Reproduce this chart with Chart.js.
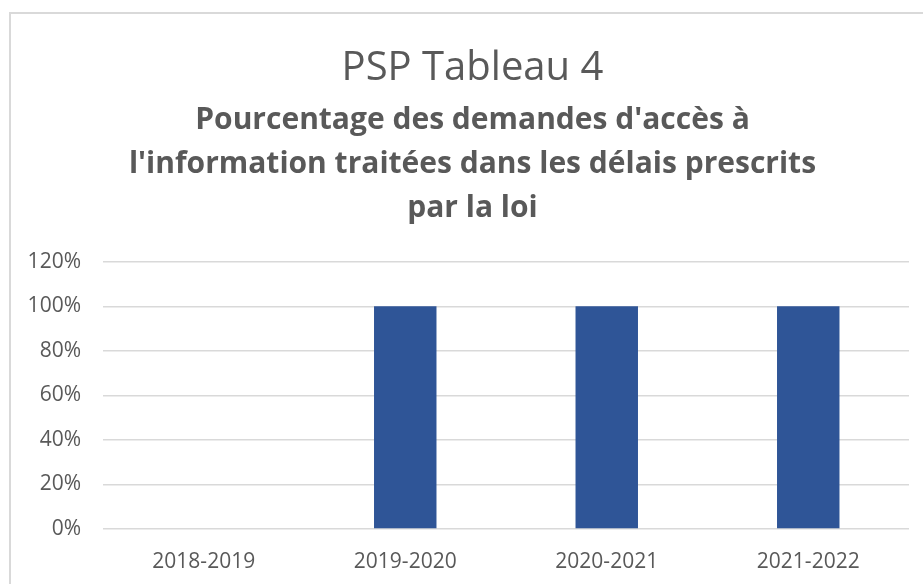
<!DOCTYPE html>
<html>
<head>
<meta charset="utf-8">
<script src="https://cdn.jsdelivr.net/npm/chart.js@4"></script>
<style>
  html, body { margin: 0; padding: 0; background: #fff; }
  #frame { position: absolute; left: 9px; top: 12px; width: 940px; height: 600px; border: 2px solid #d9d9d9; }
  #wrap { position: absolute; left: 0; top: 0; width: 923px; height: 584px; }
</style>
</head>
<body>
<div id="frame"></div>
<div id="wrap"><canvas id="chart" width="923" height="584"></canvas></div>
<script>
// Données du tableau 4
const years = ['2018-2019', '2019-2020', '2020-2021', '2021-2022'];
const pourcentages = [0, 100, 100, 100];
const yTicks = [0, 20, 40, 60, 80, 100, 120];

const titleText = 'PSP Tableau 4';
const subtitleLines = [
    "Pourcentage des demandes d'accès à",
    "l'information traitées dans les délais prescrits",
    'par la loi'
];

const grey = '#595959';

// le graphique d'origine est coupé à droite : on décale titre et sous-titre vers la droite
const shiftTitles = {
    id: 'shiftTitles',
    afterLayout(chart) {
        chart.boxes
            .filter(b => b.position === 'top' && b.options && b.options.text !== undefined)
            .forEach(b => { b.left += 18; b.right += 18; });
    }
};

const ctx = document.getElementById('chart').getContext('2d');

new Chart(ctx, {
    type: 'bar',
    data: {
        labels: years,
        datasets: [{
            data: pourcentages,
            backgroundColor: '#2f5597',
            borderWidth: 0,
            barPercentage: 0.62,
            categoryPercentage: 0.5
        }]
    },
    options: {
        responsive: false,
        animation: false,
        layout: {
            padding: { left: 0, right: 14, top: 0, bottom: 0 }
        },
        plugins: {
            legend: { display: false },
            tooltip: { enabled: false },
            title: {
                display: true,
                text: titleText,
                color: grey,
                font: { family: 'Open Sans', size: 40, weight: 'normal', lineHeight: 1.12 },
                padding: { top: 46, bottom: 7 }
            },
            subtitle: {
                display: true,
                text: subtitleLines,
                color: grey,
                font: { family: 'Open Sans', size: 30, weight: 'bold', lineHeight: 1.4667 },
                padding: { top: 1, bottom: 31 }
            }
        },
        scales: {
            x: {
                afterFit: (scale) => { scale.height = 55; },
                grid: { display: false, drawTicks: false },
                border: { display: false },
                ticks: {
                    color: grey,
                    font: { family: 'Open Sans', size: 21 },
                    padding: 20
                }
            },
            y: {
                min: 0,
                max: 120,
                afterFit: (scale) => { scale.width = 103; },
                afterBuildTicks: (scale) => {
                    scale.ticks = yTicks.map(v => ({ value: v }));
                },
                grid: { color: '#d9d9d9', lineWidth: 1.5, drawTicks: false },
                border: { display: false },
                ticks: {
                    color: grey,
                    font: { family: 'Open Sans', size: 21 },
                    padding: 22,
                    callback: (v) => v + '%'
                }
            }
        }
    },
    plugins: [shiftTitles]
});
</script>
</body>
</html>
